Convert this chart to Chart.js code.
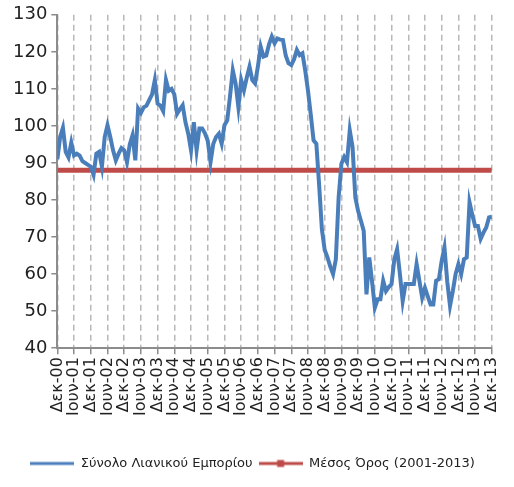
<!DOCTYPE html>
<html>
<head>
<meta charset="utf-8">
<script src="https://cdn.jsdelivr.net/npm/chart.js@4/dist/chart.umd.min.js"></script>
<style>
  html, body { margin: 0; padding: 0; background: #fff; }
</style>
</head>
<body>
<canvas id="retailChart" width="514" height="487"></canvas>
<script>
// monthly index, Dec-00 .. Dec-13
const retailValues = [
    91, 97, 99.5, 93, 91.5, 95.5, 92, 92.5, 92, 90.5, 90, 89.5, 89, 86.8, 92.5, 93, 89, 97, 100.2, 97,
    93.4, 90.7, 92.5, 94, 93.4, 90.2, 95, 97.5, 90.7, 104.7, 103.5, 105, 105.5, 107, 108.5, 112.4, 106, 105.5, 104, 112.4,
    109.5, 110, 108.5, 103.3, 104.5, 105.6, 101, 97.9, 93.4, 101, 93.4, 99.3, 99.3, 98, 96, 90.2, 95.2, 97, 97.9, 95.2,
    100.2, 101.5, 108, 115, 111.5, 105.1, 112.4, 109.6, 113, 116, 112.4, 111.5, 116, 121.4, 118.7, 119, 122, 124.1, 122.3, 123.6,
    123.3, 123.2, 119, 116.9, 116.4, 118, 120.5, 119.1, 119.6, 115, 109.5, 103, 96.1, 95.2, 84, 72, 66.5, 64.5, 62, 60,
    64, 80.7, 89.8, 91.6, 90.2, 98.8, 94.3, 80.7, 77, 74.4, 71.7, 54.5, 64.5, 58, 50.9, 53.2, 53.2, 58.2, 55.4, 56.5,
    57.3, 64, 66.7, 60, 52.7, 57.3, 57.3, 57.3, 57.3, 62.7, 58.2, 53.6, 56.3, 54, 51.8, 51.8, 58.2, 58.6, 63.6, 67.2,
    58, 51.4, 55.4, 60, 62.7, 60, 64, 64.5, 79.4, 76, 73, 73, 69.5, 71.2, 72.6, 75.3, 75.5
];
const averageValue = 88;

// one label every 6 months
const tickLabels = [
    'Δεκ-00', 'Ιουν-01', 'Δεκ-01', 'Ιουν-02', 'Δεκ-02', 'Ιουν-03', 'Δεκ-03', 'Ιουν-04', 'Δεκ-04',
    'Ιουν-05', 'Δεκ-05', 'Ιουν-06', 'Δεκ-06', 'Ιουν-07', 'Δεκ-07', 'Ιουν-08', 'Δεκ-08', 'Ιουν-09',
    'Δεκ-09', 'Ιουν-10', 'Δεκ-10', 'Ιουν-11', 'Δεκ-11', 'Ιουν-12', 'Δεκ-12', 'Ιουν-13', 'Δεκ-13'
];
const seriesNames = ['Σύνολο Λιανικού Εμπορίου', 'Μέσος Όρος (2001-2013)'];

const BLUE = '#4a7ebb';
const RED = '#be4b48';
const FONT = '"DejaVu Sans", sans-serif';

const lastIndex = retailValues.length - 1;
const retailPoints = retailValues.map((v, i) => ({ x: i, y: v }));
const averagePoints = [{ x: 0, y: averageValue }, { x: lastIndex, y: averageValue }];

// legend samples: a plain line, and a line with a square marker
function legendSample(color, withMarker) {
    const c = document.createElement('canvas');
    c.width = 44;
    c.height = 10;
    const g = c.getContext('2d');
    g.fillStyle = color;
    g.fillRect(0, 3.5, 44, 3);
    if (withMarker) g.fillRect(18.5, 1.5, 7, 7);
    return c;
}
const legendImages = [legendSample(BLUE, false), legendSample(RED, true)];

new Chart(document.getElementById('retailChart').getContext('2d'), {
    type: 'line',
    data: {
        datasets: [{
            label: seriesNames[0],
            data: retailPoints,
            borderColor: BLUE,
            backgroundColor: BLUE,
            borderWidth: 4,
            pointRadius: 0,
            tension: 0
        }, {
            label: seriesNames[1],
            data: averagePoints,
            borderColor: RED,
            backgroundColor: RED,
            borderWidth: 5,
            pointRadius: 0
        }]
    },
    options: {
        responsive: false,
        animation: false,
        layout: { padding: { top: 8, right: 18, left: 9, bottom: 7 } },
        plugins: {
            tooltip: { enabled: false },
            legend: {
                position: 'bottom',
                labels: {
                    font: { family: FONT, size: 13 },
                    color: '#222',
                    usePointStyle: true,
                    pointStyleWidth: 44,
                    padding: 6,
                    generateLabels: (chart) => chart.data.datasets.map((ds, i) => ({
                        text: ds.label,
                        pointStyle: legendImages[i],
                        fillStyle: ds.borderColor,
                        strokeStyle: ds.borderColor,
                        lineWidth: 0,
                        fontColor: '#222',
                        datasetIndex: i
                    }))
                }
            }
        },
        scales: {
            x: {
                type: 'linear',
                min: 0,
                max: lastIndex,
                // leave room between the rotated labels and the legend
                afterFit: (scale) => { scale.height += 32; },
                grid: { color: '#b8b8b8', lineWidth: 1.5, tickLength: 6, tickColor: '#8c8c8c', tickWidth: 1.5 },
                border: { color: '#8c8c8c', width: 2, dash: [6, 4] },
                ticks: {
                    stepSize: 6,
                    autoSkip: false,
                    maxRotation: 90,
                    minRotation: 90,
                    color: '#222',
                    padding: 3,
                    font: { family: FONT, size: 16 },
                    callback: (value) => tickLabels[value / 6]
                }
            },
            y: {
                min: 40,
                max: 130,
                grid: { drawOnChartArea: false, tickLength: 6, color: '#8c8c8c', lineWidth: 1.5 },
                border: { color: '#8c8c8c', width: 2 },
                ticks: { stepSize: 10, color: '#222', padding: 4, font: { family: FONT, size: 18 } }
            }
        }
    }
});
</script>
</body>
</html>
